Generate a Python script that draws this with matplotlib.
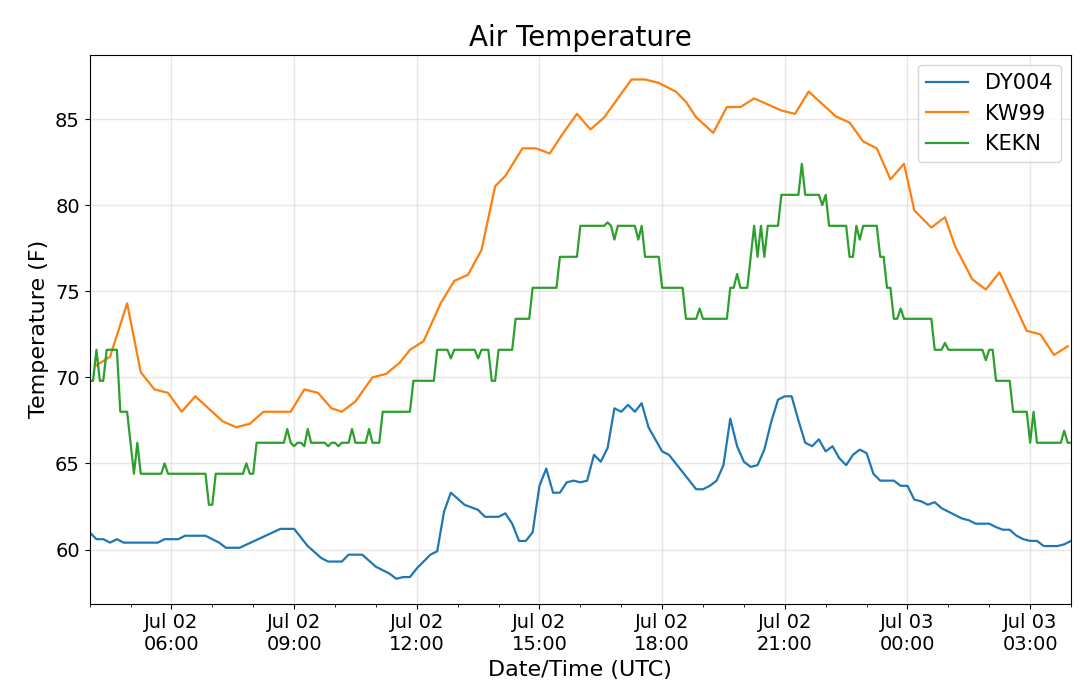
import matplotlib
matplotlib.use("Agg")
import matplotlib.pyplot as plt
import matplotlib.dates as mdates
import pandas as pd

start = pd.Timestamp("2019-07-02 04:00")

# minutes after start, temperature (F)
dy004_min = [0, 10, 20, 30, 40, 50, 60, 70, 80, 90, 100, 110, 120, 130, 140, 150,
             160, 170, 180, 190, 200, 210, 220, 280, 300, 320, 340, 350, 370, 380,
             400, 420, 440, 450, 460, 470, 480, 490, 500, 510, 520, 530, 550, 570,
             580, 600, 610, 620, 630, 640, 650, 660, 670, 680, 690, 700, 710, 720,
             730, 740, 750, 760, 770, 780, 790, 800, 810, 820, 830, 840, 850, 860,
             870, 880, 890, 900, 910, 920, 930, 940, 950, 960, 970, 980, 990, 1000,
             1010, 1020, 1030, 1040, 1050, 1060, 1070, 1080, 1090, 1100, 1110, 1120,
             1130, 1140, 1150, 1160, 1170, 1180, 1190, 1200, 1210, 1220, 1230, 1240,
             1250, 1260, 1270, 1280, 1290, 1300, 1310, 1320, 1330, 1340, 1350, 1360,
             1370, 1380, 1390, 1400, 1410, 1420, 1430, 1440]
dy004_val = [61.0, 60.6, 60.6, 60.4, 60.6, 60.4, 60.4, 60.4, 60.4, 60.4, 60.4, 60.6,
             60.6, 60.6, 60.8, 60.8, 60.8, 60.8, 60.6, 60.4, 60.1, 60.1, 60.1, 61.2,
             61.2, 60.2, 59.5, 59.3, 59.3, 59.7, 59.7, 59.0, 58.6, 58.3, 58.4, 58.4,
             58.9, 59.3, 59.7, 59.9, 62.2, 63.3, 62.6, 62.3, 61.9, 61.9, 62.1, 61.5,
             60.5, 60.5, 61.0, 63.7, 64.7, 63.3, 63.3, 63.9, 64.0, 63.9, 64.0, 65.5,
             65.1, 65.9, 68.2, 68.0, 68.4, 68.0, 68.5, 67.1, 66.4, 65.7, 65.5, 65.0,
             64.5, 64.0, 63.5, 63.5, 63.7, 64.0, 64.9, 67.6, 66.0, 65.1, 64.8, 64.9,
             65.8, 67.4, 68.7, 68.9, 68.9, 67.5, 66.2, 66.0, 66.4, 65.7, 66.0, 65.3,
             64.9, 65.5, 65.8, 65.6, 64.4, 64.0, 64.0, 64.0, 63.7, 63.7, 62.9, 62.8,
             62.6, 62.75, 62.4, 62.2, 62.0, 61.8, 61.7, 61.5, 61.5, 61.5, 61.3, 61.15,
             61.15, 60.8, 60.6, 60.5, 60.5, 60.2, 60.2, 60.2, 60.3, 60.5]

kw99_min = [10, 30, 55, 75, 95, 115, 135, 155, 195, 215, 235, 255, 295, 315, 335,
            355, 370, 390, 415, 435, 455, 470, 490, 515, 535, 555, 575, 595, 610,
            635, 655, 675, 695, 715, 735, 755, 775, 795, 815, 835, 860, 875, 890,
            915, 935, 955, 975, 1015, 1035, 1055, 1095, 1115, 1135, 1155, 1175,
            1195, 1210, 1235, 1255, 1270, 1295, 1315, 1335, 1375, 1395, 1415, 1435]
kw99_val = [70.7, 71.2, 74.3, 70.3, 69.3, 69.1, 68.0, 68.9, 67.45, 67.1, 67.3, 68.0,
            68.0, 69.3, 69.1, 68.2, 68.0, 68.6, 70.0, 70.2, 70.85, 71.6, 72.1, 74.3,
            75.6, 75.95, 77.4, 81.1, 81.7, 83.3, 83.3, 83.0, 84.2, 85.3, 84.4, 85.1,
            86.2, 87.3, 87.3, 87.1, 86.6, 86.0, 85.1, 84.2, 85.7, 85.7, 86.2, 85.5,
            85.3, 86.6, 85.15, 84.8, 83.7, 83.3, 81.5, 82.4, 79.7, 78.7, 79.3, 77.6,
            75.7, 75.1, 76.1, 72.7, 72.5, 71.3, 71.8]

kekn_min = [0, 5, 10, 15, 20, 25, 40, 45, 55, 65, 70, 75, 105, 110, 115, 170, 175,
            180, 185, 225, 230, 235, 240, 245, 285, 290, 295, 300, 305, 310, 315,
            320, 325, 345, 350, 355, 360, 365, 370, 380, 385, 390, 405, 410, 415,
            425, 430, 470, 475, 505, 510, 525, 530, 535, 565, 570, 575, 585, 590,
            595, 600, 620, 625, 645, 650, 685, 690, 715, 720, 755, 760, 765, 770,
            775, 800, 805, 810, 815, 835, 840, 870, 875, 890, 895, 900, 935, 940,
            945, 950, 955, 965, 975, 980, 985, 990, 995, 1010, 1015, 1040, 1045,
            1050, 1070, 1075, 1080, 1085, 1110, 1115, 1120, 1125, 1130, 1135, 1155,
            1160, 1165, 1170, 1175, 1180, 1185, 1190, 1195, 1235, 1240, 1250, 1255,
            1260, 1310, 1315, 1320, 1325, 1330, 1350, 1355, 1375, 1380, 1385, 1390,
            1425, 1430, 1435, 1440]
kekn_val = [69.8, 69.8, 71.6, 69.8, 69.8, 71.6, 71.6, 68.0, 68.0, 64.4, 66.2, 64.4,
            64.4, 65.0, 64.4, 64.4, 62.6, 62.6, 64.4, 64.4, 65.0, 64.4, 64.4, 66.2,
            66.2, 67.0, 66.2, 66.0, 66.2, 66.2, 66.0, 67.0, 66.2, 66.2, 66.0, 66.2,
            66.2, 66.0, 66.2, 66.2, 67.0, 66.2, 66.2, 67.0, 66.2, 66.2, 68.0, 68.0,
            69.8, 69.8, 71.6, 71.6, 71.1, 71.6, 71.6, 71.1, 71.6, 71.6, 69.8, 69.8,
            71.6, 71.6, 73.4, 73.4, 75.2, 75.2, 77.0, 77.0, 78.8, 78.8, 79.0, 78.8,
            78.0, 78.8, 78.8, 78.0, 78.8, 77.0, 77.0, 75.2, 75.2, 73.4, 73.4, 74.0,
            73.4, 73.4, 75.2, 75.2, 76.0, 75.2, 75.2, 78.8, 77.0, 78.8, 77.0, 78.8,
            78.8, 80.6, 80.6, 82.4, 80.6, 80.6, 80.0, 80.6, 78.8, 78.8, 77.0, 77.0,
            78.8, 78.0, 78.8, 78.8, 77.0, 77.0, 75.2, 75.2, 73.4, 73.4, 74.0, 73.4,
            73.4, 71.6, 71.6, 72.0, 71.6, 71.6, 71.0, 71.6, 71.6, 69.8, 69.8, 68.0,
            68.0, 66.2, 68.0, 66.2, 66.2, 66.9, 66.2, 66.2]


def to_times(minutes):
    return start + pd.to_timedelta(minutes, unit="min")


fig, ax = plt.subplots(figsize=(10.8, 6.9), dpi=100)
fig.subplots_adjust(left=0.083, right=0.9917, top=0.921, bottom=0.125)

ax.plot(to_times(dy004_min), dy004_val, color="tab:blue", lw=1.6, label="DY004")
ax.plot(to_times(kw99_min), kw99_val, color="tab:orange", lw=1.6, label="KW99")
ax.plot(to_times(kekn_min), kekn_val, color="tab:green", lw=1.6, label="KEKN")

ax.set_xlim(start, start + pd.Timedelta(minutes=1440))
ax.xaxis.set_major_locator(mdates.HourLocator(byhour=range(0, 24, 3)))
ax.xaxis.set_minor_locator(mdates.HourLocator())
ax.xaxis.set_major_formatter(mdates.DateFormatter("%b %d\n%H:%M"))
ax.tick_params(axis="both", which="major", labelsize=14)

ax.grid(True, which="major", color="#b0b0b0", alpha=0.3, lw=1)
ax.set_title("Air Temperature", fontsize=20)
ax.set_xlabel("Date/Time (UTC)", fontsize=16)
ax.set_ylabel("Temperature (F)", fontsize=16)
ax.legend(loc="upper right", fontsize=15)

fig.savefig("out.png", dpi=100)
